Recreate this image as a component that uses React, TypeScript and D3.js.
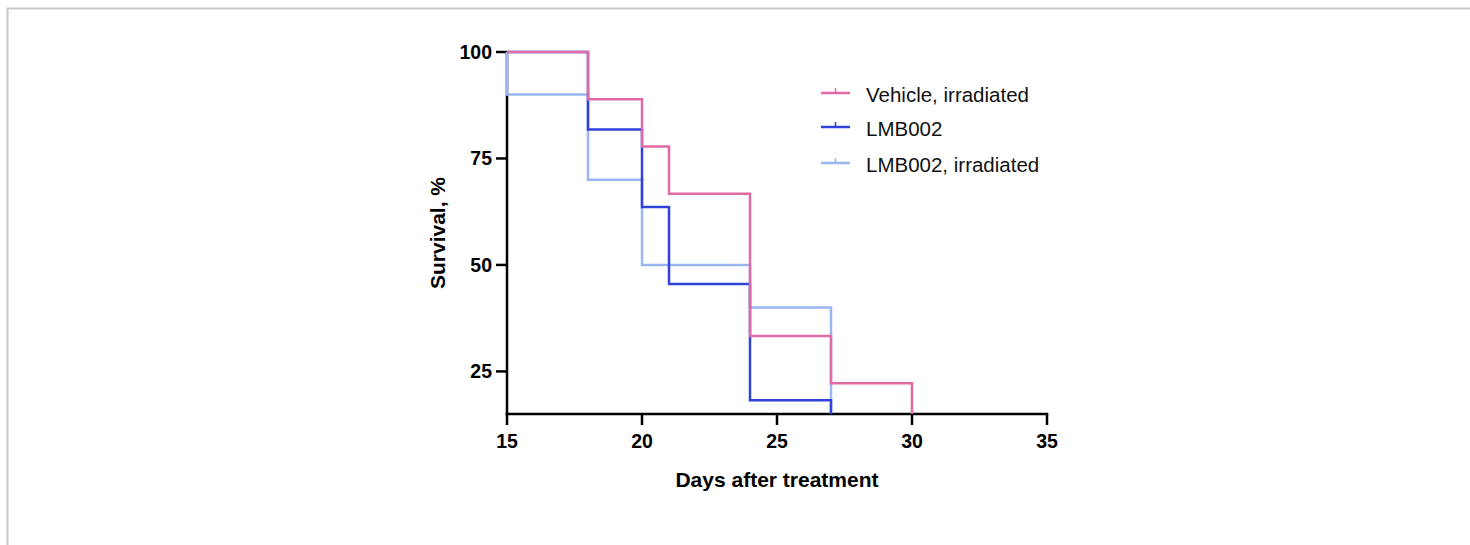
import React from "react";
import * as d3 from "d3";

const seriesNames = ["LMB002, irradiated", "LMB002", "Vehicle, irradiated"];
const seriesColors = ["#9cb6f2", "#2f43da", "#e06aa6"];

const lmbIrrDays = [15, 15, 18, 20, 24, 27];
const lmbIrrSurv = [100, 90, 70, 50, 40, 0];
const lmbDays = [15, 18, 20, 21, 24, 27];
const lmbSurv = [100, 81.8, 63.6, 45.5, 18.2, 0];
const vehDays = [15, 18, 20, 21, 24, 27, 30];
const vehSurv = [100, 88.9, 77.8, 66.7, 33.3, 22.2, 0];

const xTicks = [15, 20, 25, 30, 35];
const yTicks = [25, 50, 75, 100];

const legendOrder = ["Vehicle, irradiated", "LMB002", "LMB002, irradiated"];

export default function App() {
  const W = 1470;
  const H = 545;
  const x = d3.scaleLinear().domain([15, 35]).range([507, 1047]);
  const y = d3.scaleLinear().domain([15, 100]).range([414, 52]).clamp(true);

  const series = [
    { name: seriesNames[0], color: seriesColors[0], days: lmbIrrDays, surv: lmbIrrSurv },
    { name: seriesNames[1], color: seriesColors[1], days: lmbDays, surv: lmbSurv },
    { name: seriesNames[2], color: seriesColors[2], days: vehDays, surv: vehSurv },
  ];

  const line = d3
    .line<[number, number]>()
    .x((d) => x(d[0]))
    .y((d) => y(d[1]))
    .curve(d3.curveStepAfter);

  const font = "'Liberation Sans', Arial, Helvetica, sans-serif";

  return (
    <svg
      width={W}
      height={H}
      style={{ position: "absolute", left: 0, top: 0, background: "#fff" }}
    >
      <rect x={7.5} y={8.5} width={W + 20} height={H + 20} fill="none" stroke="#c9c9c9" strokeWidth={2} />

      {/* axes */}
      <g stroke="#000" strokeWidth={2.5} fill="none">
        <line x1={x(15)} x2={x(15)} y1={y(100) - 1} y2={y(15) + 1.25} />
        <line x1={x(15) - 1.25} x2={x(35) + 1.25} y1={y(15)} y2={y(15)} />
        {yTicks.map((t) => (
          <line key={"yt" + t} x1={x(15) - 11} x2={x(15)} y1={y(t)} y2={y(t)} />
        ))}
        {xTicks.map((t) => (
          <line key={"xt" + t} x1={x(t)} x2={x(t)} y1={y(15)} y2={y(15) + 11} />
        ))}
      </g>

      {/* curves */}
      {series.map((s) => (
        <path
          key={s.name}
          d={line(s.days.map((d, i) => [d, s.surv[i]] as [number, number])) || ""}
          fill="none"
          stroke={s.color}
          strokeWidth={2.5}
          strokeLinejoin="miter"
        />
      ))}

      {/* tick labels */}
      <g fontFamily={font} fontWeight="bold" fontSize={19.5} fill="#000">
        {yTicks.map((t) => (
          <text key={"yl" + t} x={492} y={y(t) + 7} textAnchor="end">
            {t}
          </text>
        ))}
        {xTicks.map((t) => (
          <text key={"xl" + t} x={x(t)} y={448} textAnchor="middle">
            {t}
          </text>
        ))}
      </g>

      {/* axis titles */}
      <text
        x={777}
        y={487}
        textAnchor="middle"
        fontFamily={font}
        fontWeight="bold"
        fontSize={21}
      >
        Days after treatment
      </text>
      <text
        transform={`translate(445, 233) rotate(-90)`}
        textAnchor="middle"
        fontFamily={font}
        fontWeight="bold"
        fontSize={21}
      >
        Survival, %
      </text>

      {/* legend */}
      {legendOrder.map((name, i) => {
        const s = series.find((d) => d.name === name)!;
        const ly = [93, 127, 163][i];
        const by = [102, 136, 172][i];
        return (
          <g key={"lg" + name}>
            <line x1={821} x2={850} y1={ly} y2={ly} stroke={s.color} strokeWidth={2.5} />
            <line x1={835.5} x2={835.5} y1={ly - 5} y2={ly} stroke={s.color} strokeWidth={1.5} />
            <text x={866} y={by} fontFamily={font} fontSize={20.5} fill="#111">
              {name}
            </text>
          </g>
        );
      })}
    </svg>
  );
}
